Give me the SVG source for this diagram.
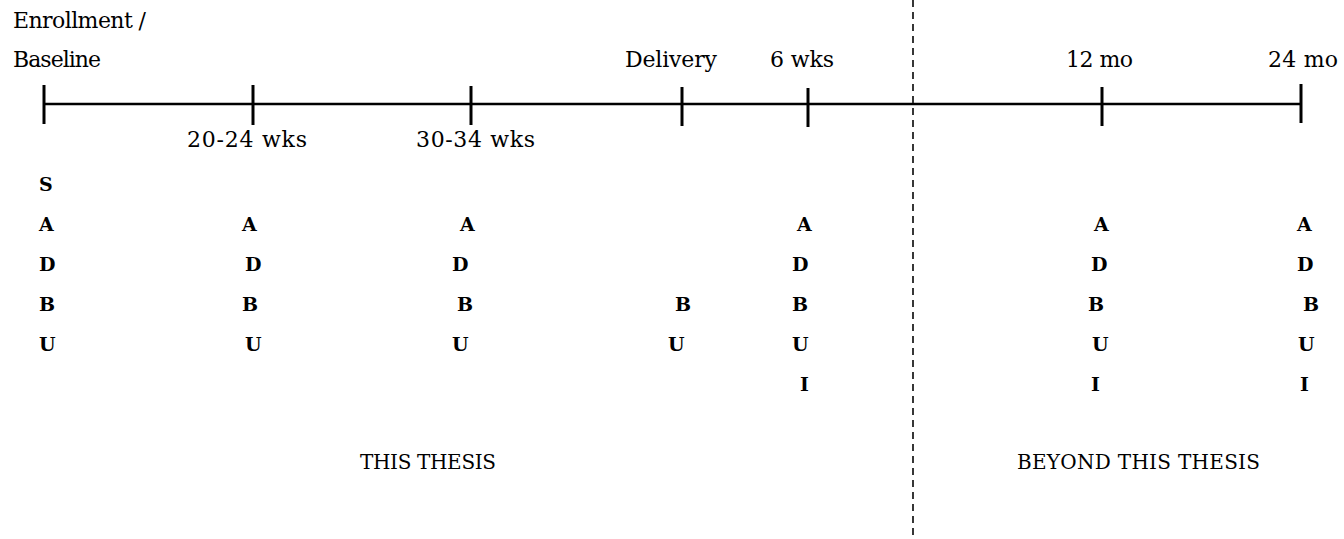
<svg xmlns="http://www.w3.org/2000/svg" width="1344" height="539" viewBox="0 0 1344 539">
<style>
.lbl{font-family:"DejaVu Serif","Liberation Serif",serif;font-size:22px;fill:#000}
.m{font-family:"DejaVu Serif","Liberation Serif",serif;font-size:19px;font-weight:bold;fill:#000}
.sec{font-family:"DejaVu Serif","Liberation Serif",serif;font-size:20px;fill:#000}
.tick{stroke:#000;stroke-width:3}
</style>
<rect width="1344" height="539" fill="#fff"/>
<g id="connectors">
<line x1="44" y1="104" x2="1301" y2="104" stroke="#000" stroke-width="2.5"/>
<line x1="913" y1="0" x2="913" y2="539" stroke="#222" stroke-width="1.8" stroke-dasharray="7 5"/>
</g>
<g id="t-baseline"><line class="tick" x1="44" y1="85" x2="44" y2="124"/><text class="lbl" x="13" y="28" textLength="133">Enrollment /</text><text class="lbl" x="13" y="67" textLength="88">Baseline</text></g>
<g id="t-2024"><line class="tick" x1="253" y1="85" x2="253" y2="125"/><text class="lbl" x="187" y="147" textLength="120">20-24 wks</text></g>
<g id="t-3034"><line class="tick" x1="471" y1="86" x2="471" y2="125"/><text class="lbl" x="416" y="147" textLength="119">30-34 wks</text></g>
<g id="t-delivery"><line class="tick" x1="682" y1="87" x2="682" y2="126"/><text class="lbl" x="625" y="67" textLength="92">Delivery</text></g>
<g id="t-6wks"><line class="tick" x1="808" y1="88" x2="808" y2="127"/><text class="lbl" x="770" y="67" textLength="64">6 wks</text></g>
<g id="t-12mo"><line class="tick" x1="1102" y1="87" x2="1102" y2="126"/><text class="lbl" x="1066" y="67" textLength="67">12 mo</text></g>
<g id="t-24mo"><line class="tick" x1="1301" y1="84" x2="1301" y2="123"/><text class="lbl" x="1268" y="67" textLength="70">24 mo</text></g>
<g id="col-baseline">
<text class="m" x="39" y="191">S</text><text class="m" x="39" y="231">A</text><text class="m" x="39" y="271">D</text><text class="m" x="39" y="311">B</text><text class="m" x="39" y="351">U</text>
</g>
<g id="col-2024">
<text class="m" x="242" y="231">A</text><text class="m" x="245" y="271">D</text><text class="m" x="242" y="311">B</text><text class="m" x="245" y="351">U</text>
</g>
<g id="col-3034">
<text class="m" x="460" y="231">A</text><text class="m" x="452" y="271">D</text><text class="m" x="457" y="311">B</text><text class="m" x="452" y="351">U</text>
</g>
<g id="col-delivery">
<text class="m" x="675" y="311">B</text><text class="m" x="668" y="351">U</text>
</g>
<g id="col-6wks">
<text class="m" x="797" y="231">A</text><text class="m" x="792" y="271">D</text><text class="m" x="792" y="311">B</text><text class="m" x="792" y="351">U</text><text class="m" x="800" y="391">I</text>
</g>
<g id="col-12mo">
<text class="m" x="1094" y="231">A</text><text class="m" x="1091" y="271">D</text><text class="m" x="1088" y="311">B</text><text class="m" x="1092" y="351">U</text><text class="m" x="1091" y="391">I</text>
</g>
<g id="col-24mo">
<text class="m" x="1297" y="231">A</text><text class="m" x="1297" y="271">D</text><text class="m" x="1303" y="311">B</text><text class="m" x="1298" y="351">U</text><text class="m" x="1300" y="391">I</text>
</g>
<g id="this-thesis"><text class="sec" x="360" y="469" textLength="136">THIS THESIS</text></g>
<g id="beyond-thesis"><text class="sec" x="1017" y="469" textLength="243">BEYOND THIS THESIS</text></g>
</svg>
